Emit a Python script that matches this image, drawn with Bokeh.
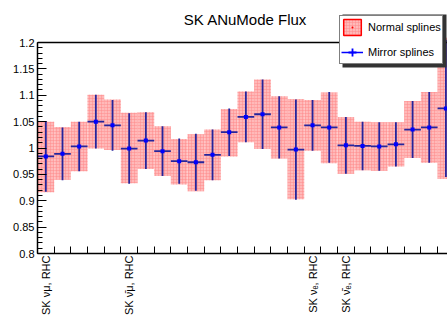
import math
from bokeh.plotting import figure
from bokeh.models import (FixedTicker, LinearAxis, Legend, LegendItem, Label, Span, BoxAnnotation,
                          CustomJSTickFormatter, Range1d, ColumnDataSource)
from bokeh.embed import file_html
from bokeh.resources import INLINE

# ---------------- data ----------------
title_text = "SK ANuMode Flux"
n_bins = 25
normal_value = [0.983, 0.990, 1.003, 1.050, 1.044, 1.000, 1.014, 0.994, 0.974, 0.972,
                0.987, 1.029, 1.059, 1.064, 1.039, 0.998, 1.043, 1.038, 1.005, 1.004,
                1.003, 1.007, 1.035, 1.039, 1.075]
normal_error = [0.067, 0.050, 0.047, 0.051, 0.048, 0.067, 0.054, 0.047, 0.043, 0.054,
                0.048, 0.045, 0.048, 0.066, 0.059, 0.095, 0.048, 0.067, 0.054, 0.046,
                0.046, 0.042, 0.054, 0.067, 0.134]
mirror_value = [0.984, 0.989, 1.003, 1.050, 1.043, 0.999, 1.014, 0.994, 0.975, 0.973,
                0.987, 1.030, 1.059, 1.064, 1.039, 0.997, 1.043, 1.039, 1.005, 1.004,
                1.003, 1.007, 1.035, 1.039, 1.075]
mirror_error = [0.067, 0.050, 0.047, 0.051, 0.048, 0.067, 0.054, 0.047, 0.043, 0.054,
                0.048, 0.045, 0.048, 0.066, 0.059, 0.095, 0.048, 0.067, 0.054, 0.046,
                0.046, 0.042, 0.054, 0.067, 0.130]
label_bins = [0, 5, 16, 18]
label_texts = ["SK \u03bd\u03bc, RHC", "SK \u03bd\u0304\u03bc, RHC",
               "SK \u03bd\u2091, RHC", "SK \u03bd\u0304\u2091, RHC"]
y_ticks = [0.8, 0.85, 0.9, 0.95, 1.0, 1.05, 1.1, 1.15, 1.2]
legend_labels = ["Normal splines", "Mirror splines"]

FONT = "Liberation Sans"
NAN = float("nan")

# ---------------- layout geometry (pixels) ----------------
W, H = 447, 322
B_LEFT, B_TOP, B_BOTTOM = 37, 6, 69
FRAME_W = W - B_LEFT
FRAME_H = H - B_TOP - B_BOTTOM
Y_LO, Y_HI = y_ticks[0], y_ticks[-1]
PX_PER_Y = 211.0 / (Y_HI - Y_LO)        # axis 0.8..1.2 spans 211 px
AXIS_TOP_PX = 42 - B_TOP                  # 1.2 sits this far below the frame top
Y_END = Y_HI + AXIS_TOP_PX / PX_PER_Y
BIN_PX = 16.67
X_END = FRAME_W / BIN_PX

# legend box geometry (pixels)
LG_LEFT, LG_BOTTOM = 339, 64
LG_PAD, LG_GW, LG_GH, LG_SP = 1, 22, 20, 5
LG_VISIBLE_H = 53


def px_x(px):
    return (px - B_LEFT) / BIN_PX


def px_y(py):
    return Y_END - (py - B_TOP) / PX_PER_Y


# ---------------- derived sources ----------------
left = [float(i) for i in range(n_bins)]
right = [float(i + 1) for i in range(n_bins)]
centre = [i + 0.5 for i in range(n_bins)]
src_n = ColumnDataSource(dict(
    left=left, right=right,
    top=[v + e for v, e in zip(normal_value, normal_error)],
    bottom=[v - e for v, e in zip(normal_value, normal_error)]))
src_m = ColumnDataSource(dict(
    x=centre, y=mirror_value, left=left, right=right,
    lo=[v - e for v, e in zip(mirror_value, mirror_error)],
    hi=[v + e for v, e in zip(mirror_value, mirror_error)]))

p = figure(width=W, height=H, x_range=Range1d(0, X_END), y_range=Range1d(Y_LO, Y_END),
           title=None, output_backend="svg", toolbar_location=None,
           x_axis_type=None, y_axis_type=None,
           min_border_left=B_LEFT, min_border_right=0, min_border_top=B_TOP,
           min_border_bottom=B_BOTTOM)
p.outline_line_color = None
p.background_fill_color = "white"
p.border_fill_color = "white"

# y axis (stops at 1.2)
yaxis = LinearAxis(ticker=FixedTicker(ticks=y_ticks,
                                      minor_ticks=[round(Y_LO + 0.01 * k, 2) for k in range(41)]),
                   formatter=CustomJSTickFormatter(code="return String(Math.round(tick*100)/100);"),
                   bounds=(Y_LO, Y_HI))
yaxis.major_tick_in = 9
yaxis.major_tick_out = 0
yaxis.minor_tick_in = 5
yaxis.minor_tick_out = 0
yaxis.major_label_standoff = 3
yaxis.major_label_text_font = FONT
yaxis.major_label_text_font_size = "11px"
yaxis.major_label_text_color = "black"
yaxis.axis_line_width = 1.5
yaxis.axis_line_color = "black"
yaxis.major_tick_line_color = "black"
yaxis.minor_tick_line_color = "black"
p.add_layout(yaxis, "left")

# x axis: ticks on bin edges, rotated labels at selected bin centres
xaxis = LinearAxis(ticker=FixedTicker(ticks=[b + 0.5 for b in label_bins],
                                      minor_ticks=list(range(n_bins + 1))))
xaxis.major_label_overrides = {b + 0.5: t for b, t in zip(label_bins, label_texts)}
xaxis.major_label_orientation = math.pi / 2
xaxis.major_tick_line_color = None
xaxis.major_tick_in = 0
xaxis.major_tick_out = 0
xaxis.minor_tick_in = 7
xaxis.minor_tick_out = 0
xaxis.minor_tick_line_color = "black"
xaxis.major_label_standoff = 2
xaxis.major_label_text_font = FONT
xaxis.major_label_text_font_size = "11px"
xaxis.major_label_text_color = "black"
xaxis.axis_line_width = 1.5
xaxis.axis_line_color = "black"
p.add_layout(xaxis, "below")

# top frame line
p.add_layout(Span(location=Y_HI, dimension="width", line_color="black", line_width=1.5))

# title
p.add_layout(Label(x=px_x(245), y=px_y(19), text=title_text,
                   text_align="center", text_baseline="middle",
                   text_font=FONT, text_font_size="15px", text_color="black"))

# normal splines: hatched boxes
hatch = dict(fill_color="#ffb9b9", hatch_pattern="cross", hatch_color="#ff8a8a",
             hatch_scale=3, hatch_weight=0.5)
p.quad(left="left", right="right", top="top", bottom="bottom", source=src_n,
       line_color=None, **hatch)

# mirror splines: error bars
BLUE_LINE = "#25259c"
p.segment(x0="x", x1="x", y0="lo", y1="hi", source=src_m, line_color=BLUE_LINE, line_width=1.8)
p.segment(x0="left", x1="right", y0="y", y1="y", source=src_m,
          line_color=BLUE_LINE, line_width=1.8)
p.scatter(x="x", y="y", source=src_m, marker="square", size=4, line_width=0,
          fill_color="#0000ff")

# legend proxies (NaN coordinates: drawn only in the legend)
lq = p.quad(left=[NAN], right=[NAN], top=[NAN], bottom=[NAN],
            line_color="red", line_width=1.5, **hatch)
ld = p.scatter(x=[NAN], y=[NAN], marker="dot", size=6, color="red")
lh = p.segment(x0=[NAN], x1=[NAN], y0=[NAN], y1=[NAN], line_color="#0000ff", line_width=1.5)
lc = p.scatter(x=[NAN], y=[NAN], marker="cross", line_color="#0000ff", line_width=1.8)
lo = p.scatter(x=[NAN], y=[NAN], marker="dot", size=6, color="#0000ff")

# legend shadow (ROOT style)
p.add_layout(BoxAnnotation(left=px_x(LG_LEFT + 3), right=px_x(446),
                           top=px_y(LG_BOTTOM - LG_VISIBLE_H + 3),
                           bottom=px_y(LG_BOTTOM + 3),
                           fill_color="#333333", fill_alpha=1, line_color=None))

legend = Legend(items=[LegendItem(label=legend_labels[0], renderers=[lq, ld]),
                       LegendItem(label=legend_labels[1], renderers=[lh, lc, lo])],
                location=(LG_LEFT - B_LEFT, H - B_BOTTOM - LG_BOTTOM), orientation="vertical")
legend.glyph_width = LG_GW
legend.glyph_height = LG_GH
legend.label_height = LG_GH
legend.label_standoff = 5
legend.padding = LG_PAD
legend.spacing = LG_SP
legend.margin = 0
legend.border_line_color = "black"
legend.border_line_width = 1
legend.background_fill_color = "white"
legend.background_fill_alpha = 1
legend.label_text_font = FONT
legend.label_text_font_size = "11px"
legend.label_text_color = "black"
p.add_layout(legend, "center")

open("out.html", "w").write(file_html(p, INLINE))
